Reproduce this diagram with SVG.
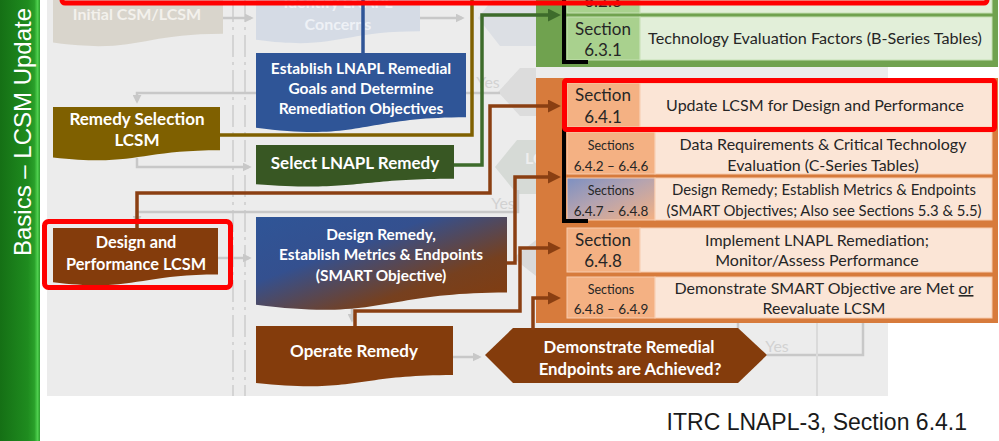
<svg xmlns="http://www.w3.org/2000/svg" width="999" height="441" viewBox="0 0 999 441">
<defs>
<linearGradient id="barG" x1="0" y1="0" x2="1" y2="0">
<stop offset="0" stop-color="#157015"/><stop offset="0.7" stop-color="#1f8c1f"/><stop offset="0.86" stop-color="#2aa02a"/><stop offset="0.94" stop-color="#4fd04f"/><stop offset="1" stop-color="#2b9b2b"/>
</linearGradient>
<linearGradient id="drG" x1="0" y1="0" x2="1" y2="1">
<stop offset="0" stop-color="#2f5597"/><stop offset="0.35" stop-color="#34508f"/><stop offset="0.7" stop-color="#76401f"/><stop offset="1" stop-color="#843c0c"/>
</linearGradient>
<linearGradient id="secG" x1="0" y1="0" x2="1" y2="1">
<stop offset="0" stop-color="#7d90c2"/><stop offset="0.45" stop-color="#b4a3b0"/><stop offset="1" stop-color="#f4b183"/>
</linearGradient>
<marker id="aGy" viewBox="0 0 10 10" refX="7" refY="5" markerWidth="9" markerHeight="9" markerUnits="userSpaceOnUse" orient="auto"><path d="M0,0 L10,5 L0,10 z" fill="#c8c8c8"/></marker>
<marker id="aGn" viewBox="0 0 10 10" refX="7" refY="5" markerWidth="13" markerHeight="13" markerUnits="userSpaceOnUse" orient="auto"><path d="M0,0 L10,5 L0,10 z" fill="#3d6b2b"/></marker>
<marker id="aBr" viewBox="0 0 10 10" refX="7" refY="5" markerWidth="13" markerHeight="13" markerUnits="userSpaceOnUse" orient="auto"><path d="M0,0 L10,5 L0,10 z" fill="#8a3f12"/></marker>
</defs>
<style>
.nd{font-family:Lato,"Open Sans","Liberation Sans",sans-serif;font-weight:bold;fill:#ffffff;text-anchor:middle}
.fd{font-family:Lato,"Open Sans","Liberation Sans",sans-serif;font-weight:bold;text-anchor:middle}
.rt{font-family:Lato,"Open Sans","Liberation Sans",sans-serif;fill:#262626;text-anchor:middle}
.gl{stroke:#c8c8c8;stroke-width:2.5;fill:none}
.dash{stroke:#d4d4d4;stroke-width:2;stroke-dasharray:22 5 3 5;fill:none}
.cn{fill:none;stroke-width:3.5;stroke-linejoin:miter}
.brk{fill:none;stroke:#000;stroke-width:4}
.hl{fill:none;stroke:#ff0000;stroke-width:5}
</style>

<rect x="0" y="0" width="999" height="441" fill="#ffffff"/>
<rect x="47" y="0" width="841" height="396" fill="#ececec"/>

<g id="sidebar">
<rect x="0" y="0" width="40" height="441" fill="url(#barG)"/>
<text transform="translate(31,132) rotate(-90)" font-family="'Liberation Sans',Arial,sans-serif" font-size="24" fill="#ffffff" text-anchor="middle">Basics – LCSM Update</text>
</g>

<g id="background">
<line class="dash" x1="233" y1="0" x2="233" y2="396"/>
<line class="dash" x1="245" y1="0" x2="245" y2="396"/>
<polygon points="478,18 500,-10 536,-10 536,46 500,46" fill="#dcdfe4"/>
<polygon points="498,92 520,68 536,68 536,116 520,116" fill="#dcdcdc"/>
<polygon points="495,167 517,140 536,140 536,194 517,194" fill="#d6dad6"/>
<text x="525" y="164" font-family="Lato,sans-serif" font-weight="bold" font-size="16" fill="#eeeeee">LC</text>
<polygon points="513,258 536,240 536,276" fill="#d9d9d9"/>
<text x="488" y="88" font-family="Lato,sans-serif" font-size="16" fill="#d2d2d2" text-anchor="middle">Yes</text>
<text x="503" y="209" font-family="Lato,sans-serif" font-size="16" fill="#d2d2d2" text-anchor="middle">Yes</text>
<text x="777" y="352" font-family="Lato,sans-serif" font-size="16" fill="#d2d2d2" text-anchor="middle">Yes</text>
<path class="gl" d="M767,355 H863 V323"/>
<line class="gl" x1="738" y1="323" x2="738" y2="330"/>
<line x1="817" y1="323" x2="817" y2="396" stroke="#dadada" stroke-width="2"/>
<path class="gl" d="M223,18 H251" marker-end="url(#aGy)"/>
<path class="gl" d="M420,18 H462" marker-end="url(#aGy)"/>
<path class="gl" d="M500,93 H137 V101" marker-end="url(#aGy)"/>
<path class="gl" d="M137,158 V167 H249" marker-end="url(#aGy)"/>
<path class="gl" d="M518,190 V212 H137 V222" marker-end="url(#aGy)"/>
<path class="gl" d="M218,258 H249" marker-end="url(#aGy)"/>
<path class="gl" d="M352,308 V320" marker-end="url(#aGy)"/>
<path class="gl" d="M453,357 H479" marker-end="url(#aGy)"/>
</g>

<g id="node-initial">
<path d="M53,-20 H223 V33.7 C138,33.7 138,54.2 53,42.6 Z" fill="#d9d5cc"/>
<text class="fd" x="137" y="20" font-size="16" fill="#f3f1ec">Initial CSM/LCSM</text>
</g>
<g id="node-identify">
<path d="M256,-20 H420 V31.3 C338,31.3 338,50.8 256,39.8 Z" fill="#d5dbe5"/>
<text class="fd" x="338" y="8" font-size="16" fill="#eef1f6">Identify LNAPL</text>
<text class="fd" x="338" y="30" font-size="16" fill="#eef1f6">Concerns</text>
</g>

<g id="node-remedy-selection-lcsm">
<path d="M53,107 H220 V150.3 C136.5,150.3 136.5,166.8 53,157.4 Z" fill="#7f6000"/>
<text class="nd" x="137" y="125" font-size="17">Remedy Selection</text>
<text class="nd" x="137" y="146" font-size="17">LCSM</text>
</g>
<g id="node-establish-goals">
<path d="M256,53 H466 V117.2 C361,117.2 361,141.6 256,127.7 Z" fill="#2f5597"/>
<text class="nd" x="361" y="74" font-size="15.5">Establish LNAPL Remedial</text>
<text class="nd" x="361" y="94" font-size="15.5">Goals and Determine</text>
<text class="nd" x="361" y="114" font-size="15.5">Remediation Objectives</text>
</g>
<g id="node-select-remedy">
<path d="M256,145 H454 V178.7 C355,178.7 355,191.5 256,184.2 Z" fill="#385723"/>
<text class="nd" x="355" y="169" font-size="17">Select LNAPL Remedy</text>
</g>
<g id="node-design-performance-lcsm">
<path d="M53,228 H218 V274.5 C135.5,274.5 135.5,292.2 53,282.2 Z" fill="#843c0c"/>
<text class="nd" x="136" y="248" font-size="16.3">Design and</text>
<text class="nd" x="136" y="270" font-size="16.3">Performance LCSM</text>
</g>
<g id="node-design-remedy">
<path d="M256,217 H507 V292.4 C381.5,292.4 381.5,321 256,304.8 Z" fill="url(#drG)"/>
<text class="nd" x="381" y="240" font-size="15.4">Design Remedy,</text>
<text class="nd" x="381" y="260" font-size="15.4">Establish Metrics &amp; Endpoints</text>
<text class="nd" x="381" y="281" font-size="15.4">(SMART Objective)</text>
</g>
<g id="node-operate-remedy">
<path d="M256,326 H453 V374.9 C354.5,374.9 354.5,393.5 256,383 Z" fill="#843c0c"/>
<text class="nd" x="354" y="357" font-size="17">Operate Remedy</text>
</g>
<g id="node-demonstrate">
<polygon points="485,355 513,328 738,328 767,355 738,383 513,383" fill="#843c0c"/>
<text class="nd" x="629" y="353" font-size="16.8">Demonstrate Remedial</text>
<text class="nd" x="630" y="375" font-size="16.8">Endpoints are Achieved?</text>
</g>

<g id="panel-green">
<rect x="536" y="-10" width="462" height="77" fill="#70a24f"/>
<rect x="567" y="-20" width="73" height="33" fill="#a9d18e" stroke="#c5e0b3" stroke-width="1"/>
<rect x="640" y="-20" width="352" height="33" fill="#e2efd9" stroke="#c5e0b3" stroke-width="1"/>
<text class="rt" x="603" y="7" font-size="17">6.2.3</text>
<rect x="567" y="17" width="73" height="43" fill="#a9d18e" stroke="#c5e0b3" stroke-width="1"/>
<rect x="640" y="17" width="352" height="43" fill="#e2efd9" stroke="#c5e0b3" stroke-width="1"/>
<text class="rt" x="603" y="35" font-size="17">Section</text>
<text class="rt" x="603" y="56" font-size="17">6.3.1</text>
<text class="rt" x="815" y="44" font-size="16.2">Technology Evaluation Factors (B-Series Tables)</text>
</g>

<g id="panel-orange">
<rect x="536" y="78" width="462" height="245" fill="#d77b3c"/>
<rect x="567" y="83" width="73" height="44" fill="#f4b183" stroke="#f8cbad" stroke-width="1"/>
<rect x="640" y="83" width="352" height="44" fill="#fbe5d6" stroke="#f8cbad" stroke-width="1"/>
<text class="rt" x="603" y="101" font-size="17">Section</text>
<text class="rt" x="603" y="123" font-size="17">6.4.1</text>
<text class="rt" x="815" y="111" font-size="16">Update LCSM for Design and Performance</text>

<rect x="567" y="132" width="88" height="42" fill="#f4b183" stroke="#f8cbad" stroke-width="1"/>
<rect x="655" y="132" width="337" height="42" fill="#fbe5d6" stroke="#f8cbad" stroke-width="1"/>
<text class="rt" x="611" y="150" font-size="12.5">Sections</text>
<text class="rt" x="611" y="171" font-size="13.5">6.4.2 – 6.4.6</text>
<text class="rt" x="823" y="150" font-size="16">Data Requirements &amp; Critical Technology</text>
<text class="rt" x="823" y="171" font-size="16">Evaluation (C-Series Tables)</text>

<rect x="567" y="178" width="88" height="42" fill="url(#secG)" stroke="#f8cbad" stroke-width="1"/>
<rect x="655" y="178" width="337" height="42" fill="#fbe5d6" stroke="#f8cbad" stroke-width="1"/>
<text class="rt" x="611" y="195" font-size="12.5">Sections</text>
<text class="rt" x="611" y="216" font-size="13.5">6.4.7 – 6.4.8</text>
<text class="rt" x="824" y="195" font-size="14.9">Design Remedy; Establish Metrics &amp; Endpoints</text>
<text class="rt" x="824" y="216" font-size="14.9">(SMART Objectives; Also see Sections 5.3 &amp; 5.5)</text>

<rect x="567" y="228" width="73" height="44" fill="#f4b183" stroke="#f8cbad" stroke-width="1"/>
<rect x="640" y="228" width="352" height="44" fill="#fbe5d6" stroke="#f8cbad" stroke-width="1"/>
<text class="rt" x="603" y="246" font-size="17">Section</text>
<text class="rt" x="603" y="267" font-size="17">6.4.8</text>
<text class="rt" x="817" y="246" font-size="16">Implement LNAPL Remediation;</text>
<text class="rt" x="817" y="266" font-size="16">Monitor/Assess Performance</text>

<rect x="567" y="277" width="88" height="41" fill="#f4b183" stroke="#f8cbad" stroke-width="1"/>
<rect x="655" y="277" width="337" height="41" fill="#fbe5d6" stroke="#f8cbad" stroke-width="1"/>
<text class="rt" x="611" y="294" font-size="12.5">Sections</text>
<text class="rt" x="611" y="314" font-size="13.5">6.4.8 – 6.4.9</text>
<text class="rt" x="824" y="294" font-size="16">Demonstrate SMART Objective are Met <tspan text-decoration="underline">or</tspan></text>
<text class="rt" x="824" y="314" font-size="16">Reevaluate LCSM</text>
</g>

<g id="connectors">
<path class="cn" stroke="#7f6000" d="M220,135 H472 V-5"/>
<path class="cn" stroke="#2f5597" d="M363,53 V-5"/>
<path class="cn" stroke="#3d6b2b" d="M454,165 H482 V15 H557" marker-end="url(#aGn)"/>
<path class="cn" stroke="#8a3f12" d="M137,228 V193 H490 V106 H557" marker-end="url(#aBr)"/>
<path class="cn" stroke="#8a3f12" d="M507,263 H515 V177 H557" marker-end="url(#aBr)"/>
<path class="cn" stroke="#8a3f12" d="M355,326 V311 H520 V248 H557" marker-end="url(#aBr)"/>
<path class="cn" stroke="#8a3f12" d="M533,330 V298 H557" marker-end="url(#aBr)"/>
<path class="brk" d="M564,-5 V62 H588"/>
<path class="brk" d="M588,129 H564 V221 H588"/>
</g>

<g id="highlights">
<rect class="hl" x="62" y="-30" width="925" height="33" rx="3"/>
<rect class="hl" x="564.5" y="80.5" width="430" height="49" rx="2"/>
<rect class="hl" x="44.5" y="221.5" width="186" height="66" rx="4"/>
</g>

<text x="967" y="430" font-family="'Liberation Sans',Arial,sans-serif" font-size="23" fill="#1a1a1a" text-anchor="end">ITRC LNAPL-3, Section 6.4.1</text>
</svg>
